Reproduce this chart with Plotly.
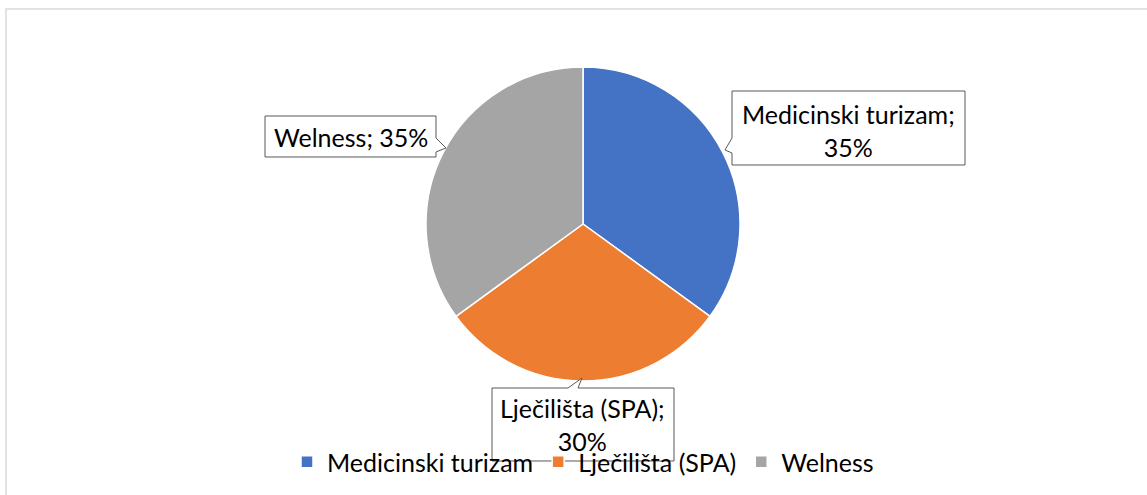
import plotly.graph_objects as go

W, H = 1147, 495

categories = ["Medicinski turizam", "Lječilišta (SPA)", "Welness"]
values = [35, 30, 35]
colors = ["#4472C4", "#ED7D31", "#A5A5A5"]
label_texts = ["Medicinski turizam;<br>35%", "Lječilišta (SPA);<br>30%", "Welness; 35%"]

FONT = "Lato"
FS = 25


def px(x, y):
    return x / W, 1 - y / H


def path(points):
    pts = [px(x, y) for x, y in points]
    return "M " + " L ".join(f"{a:.5f},{b:.5f}" for a, b in pts) + " Z"


fig = go.Figure()
x0, y1 = px(426, 67)
x1, y0 = px(740, 381)
fig.add_trace(go.Pie(
    labels=categories, values=values, sort=False, direction="clockwise", rotation=0,
    marker=dict(colors=colors, line=dict(color="white", width=1.5)),
    textinfo="none", hoverinfo="label+percent",
    domain=dict(x=[x0, x1], y=[y0, y1]),
))

shapes = []
# chart border
bx0, by0 = px(6, 9)
bx1, by1 = px(1150, 500)
shapes.append(dict(type="rect", xref="paper", yref="paper", x0=bx0, y0=by1, x1=bx1, y1=by0,
                   line=dict(color="#D9D9D9", width=1.5), fillcolor="rgba(0,0,0,0)", layer="below"))

callouts = [
    [(732, 91), (965, 91), (965, 165), (732, 165), (732, 153), (725, 150), (732, 138)],
    [(492, 388), (568, 388), (582, 378), (578, 388), (674, 388), (674, 461), (492, 461)],
    [(265, 116), (436, 116), (436, 138), (446, 148), (436, 152), (436, 157), (265, 157)],
]
for pts in callouts:
    shapes.append(dict(type="path", xref="paper", yref="paper", path=path(pts),
                       line=dict(color="#595959", width=1), fillcolor="white", layer="above"))

text_pos = [(848, 130), (583, 424), (351, 137)]
annotations = []
for t, (x, y) in zip(label_texts, text_pos):
    ax, ay = px(x, y)
    annotations.append(dict(text=t, x=ax, y=ay, xref="paper", yref="paper", showarrow=False,
                            xanchor="center", yanchor="middle", align="center",
                            font=dict(family=FONT, size=FS, color="#000000")))

lx, ly = px(583, 462)
fig.update_layout(
    width=W, height=H,
    margin=dict(l=0, r=0, t=0, b=0),
    paper_bgcolor="white", plot_bgcolor="white",
    shapes=shapes, annotations=annotations,
    showlegend=True,
    legend=dict(orientation="h", x=lx, y=ly, xanchor="center", yanchor="middle",
                bgcolor="rgba(0,0,0,0)", font=dict(family=FONT, size=FS, color="#000000"),
                itemwidth=30, traceorder="normal"),
)

fig.write_html("out.html", config={"displayModeBar": False},
               post_script="document.body.style.margin='0';")
